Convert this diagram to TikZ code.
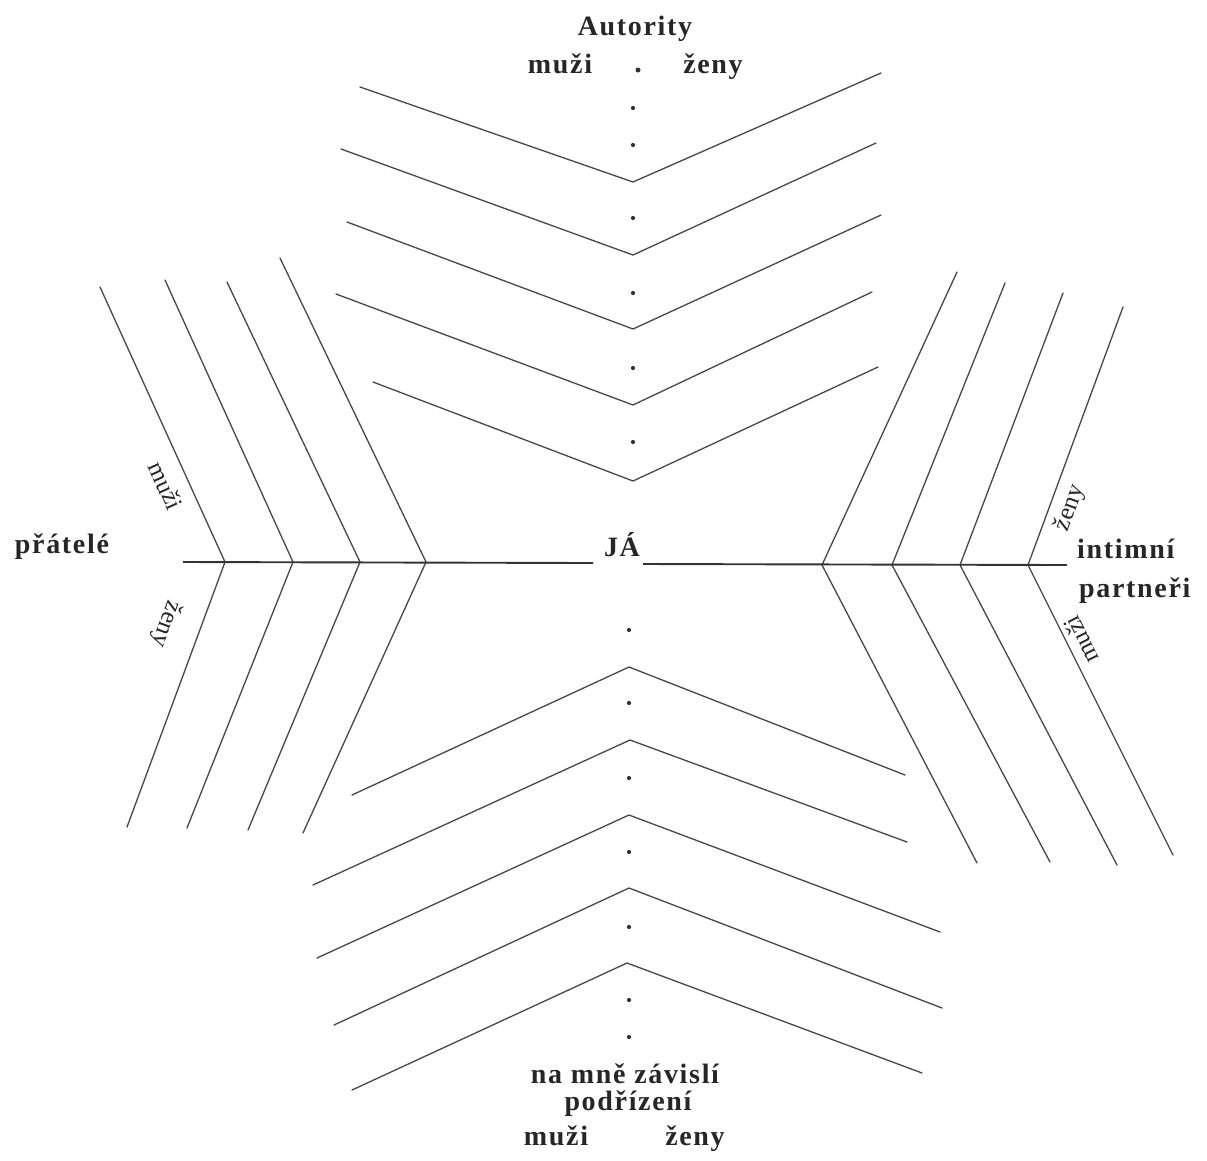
\documentclass[tikz,border=0pt]{standalone}
\usepackage{fontspec}
\setmainfont{Liberation Serif}[LetterSpace=6]
\newfontfamily\rotfont{Liberation Serif}
\begin{document}
\begin{tikzpicture}[x=1pt,y=-1pt,
  lbl/.style={font=\fontsize{28}{32}\selectfont\bfseries, inner sep=0pt, text=black!85},
  rlbl/.style={font=\rotfont\fontsize{25}{28}\selectfont, inner sep=0pt, text=black!85},
  chev/.style={draw=black!72, line width=1.3pt, line join=round, line cap=round},
  axis/.style={draw=black!80, line width=1.9pt},
  dotmark/.style={circle, fill=black!80, inner sep=0pt, minimum size=4.2pt}]
\useasboundingbox[fill=white] (0,0) rectangle (1207,1160);

% --- chevrons: name / outer end 1 / apex / outer end 2
\foreach \n/\ax/\ay/\bx/\by/\cx/\cy in {
  t1/360/87/633/182/881/73,
  t2/341/149/633/255/876/143,
  t3/347/222/633/329/881/215,
  t4/336/294/633/405/872/292,
  t5/373/382/633/481/878/367,
  b1/352/795/629/667/905/775,
  b2/313/885/630/740/907/842,
  b3/317/958/629/815/940/932,
  b4/334/1025/629/888/942/1008,
  b5/352/1090/627/963/922/1073,
  l1/100/287/225/562/127/827,
  l2/165/280/293/562/187/828,
  l3/227/282/360/562/248/830,
  l4/280/258/426/562/303/833,
  r1/957/272/822/565/977/863,
  r2/1005/283/892/565/1050/862,
  r3/1063/293/960/565/1117/865,
  r4/1123/307/1028/565/1173/855}
{
  \coordinate (\n a) at (\ax,\ay);
  \coordinate (\n b) at (\bx,\by);
  \coordinate (\n c) at (\cx,\cy);
  \draw[chev] (\n a) -- (\n b) -- (\n c);
}

% --- horizontal axis
\coordinate (hl1) at (183,562);
\coordinate (hl2) at (593,563);
\coordinate (hr1) at (643,564);
\coordinate (hr2) at (1067,565);
\draw[axis] (hl1) -- (hl2);
\draw[axis] (hr1) -- (hr2);

% --- dotted vertical axes
\foreach \y [count=\i] in {108,145,218,293,368,442}
  \node[dotmark] (td\i) at (633,\y) {};
\node[dotmark, minimum size=5pt] (td0) at (638,70) {};
\foreach \y [count=\i] in {630,703,778,852,927,1000,1037}
  \node[dotmark] (bd\i) at (629,\y) {};

% --- labels
\node[lbl, anchor=base] (aut) at (635,35) {Autority};
\node[lbl, anchor=base] (am) at (560,73) {muži};
\node[lbl, anchor=base] (az) at (713,73) {ženy};
\node[lbl, anchor=base] (prat) at (62,553) {přátelé};
\node[lbl, anchor=base] (ja) at (622,556) {JÁ};
\node[lbl, anchor=base west] (intim) at (1077,558) {intimní};
\node[lbl, anchor=base west] (partn) at (1079,597) {partneři};
\node[lbl, anchor=base] (zav) at (625,1083) {na mně závislí};
\node[lbl, anchor=base] (podr) at (628,1110) {podřízení};
\node[lbl, anchor=base] (bm) at (556,1145) {muži};
\node[lbl, anchor=base] (bz) at (695,1145) {ženy};

% --- rotated labels along the side chevrons
\node[rlbl, rotate=-65.6] (lm) at (166,486) {muži};
\node[rlbl, rotate=-110.3] (lz) at (166,624) {ženy};
\node[rlbl, rotate=69.8] (rz) at (1070,508) {ženy};
\node[rlbl, rotate=116.6] (rm) at (1081,640) {muži};
\end{tikzpicture}
\end{document}
